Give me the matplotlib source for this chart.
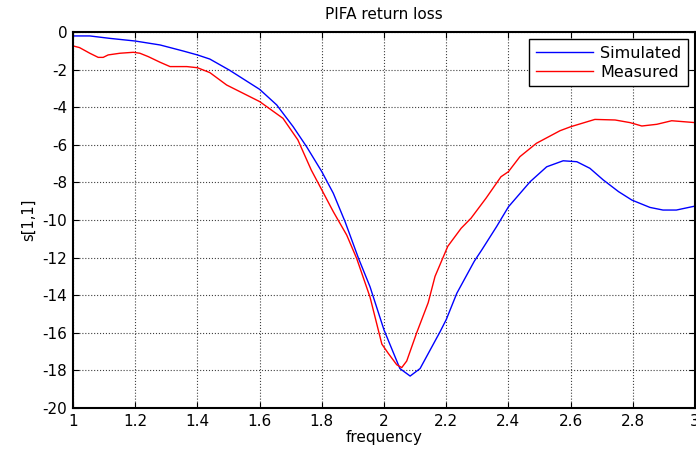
import matplotlib
matplotlib.use("Agg")
import matplotlib.pyplot as plt

plt.rcParams['font.family'] = ['DejaVu Sans']
plt.rcParams['axes.unicode_minus'] = False

# Simulated S11 (dB) vs frequency (GHz)
sim_freq = [1.0, 1.054, 1.119, 1.2, 1.28, 1.354, 1.4, 1.44, 1.503, 1.6, 1.655,
            1.708, 1.751, 1.8, 1.837, 1.875, 1.918, 1.955, 2.0, 2.051, 2.084,
            2.116, 2.18, 2.2, 2.234, 2.29, 2.314, 2.362, 2.4, 2.47, 2.523,
            2.576, 2.62, 2.662, 2.705, 2.754, 2.797, 2.855, 2.897, 2.94, 3.0]
sim_s11 = [-0.21, -0.21, -0.34, -0.48, -0.69, -1.01, -1.22, -1.44, -2.03, -3.05, -3.88,
           -5.04, -6.1, -7.43, -8.58, -10.1, -12.04, -13.55, -15.85, -17.9, -18.3,
           -17.9, -15.95, -15.3, -13.9, -12.2, -11.6, -10.35, -9.3, -7.96, -7.17,
           -6.85, -6.9, -7.25, -7.87, -8.49, -8.94, -9.33, -9.47, -9.47, -9.26]

# Measured S11 (dB) vs frequency (GHz)
meas_freq = [1.0, 1.021, 1.054, 1.081, 1.097, 1.113, 1.151, 1.194, 1.215, 1.242,
             1.28, 1.312, 1.366, 1.4, 1.44, 1.494, 1.6, 1.675, 1.723, 1.766, 1.8,
             1.837, 1.88, 1.912, 1.955, 1.993, 2.014, 2.041, 2.057, 2.073, 2.105,
             2.142, 2.164, 2.205, 2.248, 2.28, 2.328, 2.376, 2.4, 2.437, 2.49,
             2.566, 2.6, 2.678, 2.743, 2.791, 2.829, 2.877, 2.925, 3.0]
meas_s11 = [-0.74, -0.83, -1.13, -1.35, -1.35, -1.22, -1.13, -1.08, -1.13, -1.31,
            -1.61, -1.84, -1.84, -1.9, -2.16, -2.82, -3.7, -4.59, -5.74, -7.34, -8.4,
            -9.56, -10.8, -12.04, -14.1, -16.6, -17.1, -17.7, -17.85, -17.5, -16.0,
            -14.4, -13.0, -11.4, -10.44, -9.9, -8.84, -7.7, -7.43, -6.63, -5.92,
            -5.25, -5.04, -4.65, -4.68, -4.82, -5.0, -4.91, -4.72, -4.82]

x_ticks = [1, 1.2, 1.4, 1.6, 1.8, 2, 2.2, 2.4, 2.6, 2.8, 3]
x_tick_labels = ['1', '1.2', '1.4', '1.6', '1.8', '2', '2.2', '2.4', '2.6', '2.8', '3']
y_ticks = list(range(-20, 1, 2))

fig = plt.figure(figsize=(6.96, 4.5), dpi=100)
ax = fig.add_axes([0.1049, 0.0933, 0.8937, 0.8356])

ax.plot(sim_freq, sim_s11, color='#0000ff', lw=1.0, label='Simulated')
ax.plot(meas_freq, meas_s11, color='#ff0000', lw=1.0, label='Measured')

ax.set_xlim(1, 3)
ax.set_ylim(-20, 0)
ax.set_xticks(x_ticks)
ax.set_xticklabels(x_tick_labels)
ax.set_yticks(y_ticks)
ax.tick_params(direction='in', length=4, width=0.8, top=True, right=True,
               labelsize=11, colors='black', pad=4)
ax.grid(True, color='#404040', linestyle=':', linewidth=0.8)
for sp in ax.spines.values():
    sp.set_linewidth(1.5)
    sp.set_color('black')

ax.set_title('PIFA return loss', fontsize=11, pad=9)
ax.set_xlabel('frequency', fontsize=11, labelpad=1)
ax.set_ylabel('s[1,1]', fontsize=10.5, labelpad=5)

leg = ax.legend(loc='upper right', fontsize=11.5, fancybox=False, framealpha=1,
                edgecolor='black', borderaxespad=0.45, handlelength=3.6,
                handletextpad=0.45, borderpad=0.4, labelspacing=0.25)
leg.get_frame().set_linewidth(1.0)

fig.savefig('out.png', dpi=100)
